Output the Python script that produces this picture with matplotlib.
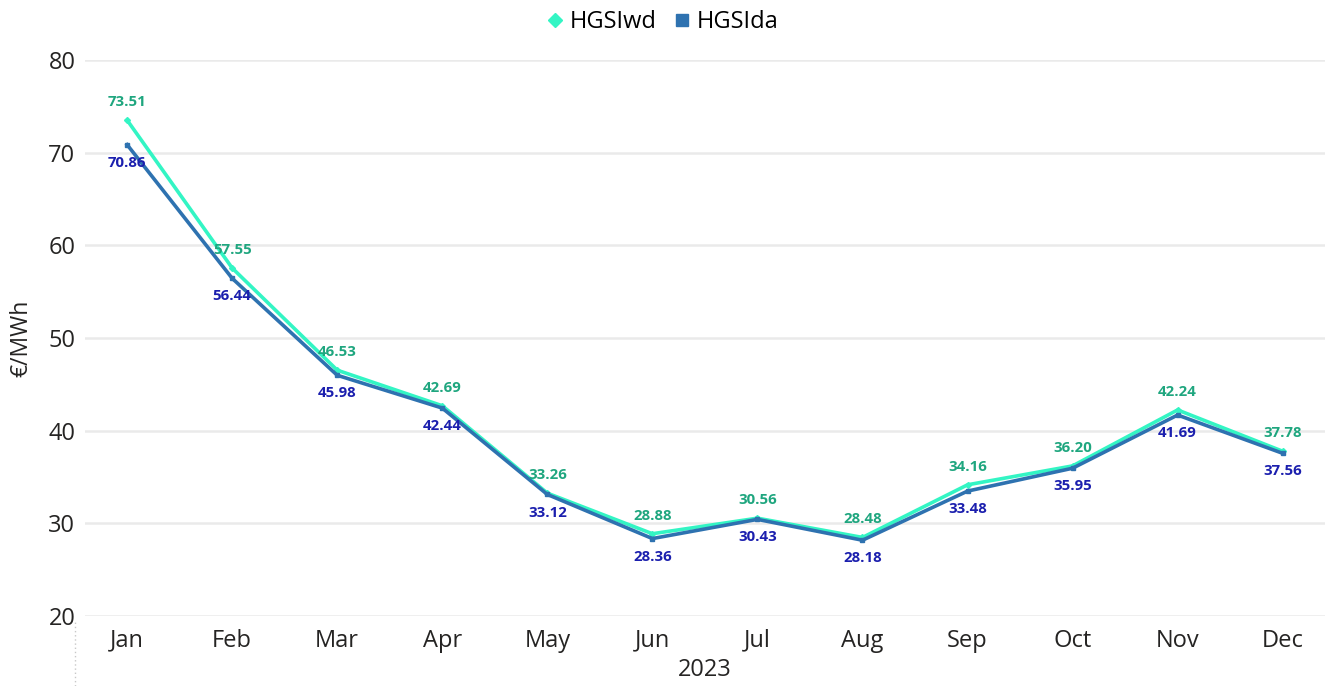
import matplotlib
matplotlib.use("Agg")
import matplotlib.pyplot as plt
from matplotlib.lines import Line2D

months = ["Jan", "Feb", "Mar", "Apr", "May", "Jun", "Jul", "Aug", "Sep", "Oct", "Nov", "Dec"]
hgsi_wd = [73.51, 57.55, 46.53, 42.69, 33.26, 28.88, 30.56, 28.48, 34.16, 36.20, 42.24, 37.78]
hgsi_da = [70.86, 56.44, 45.98, 42.44, 33.12, 28.36, 30.43, 28.18, 33.48, 35.95, 41.69, 37.56]

wd_line = "#33F5C4"
wd_text = "#1FA67F"
da_line = "#2E72B0"
da_text = "#1B1FAE"

plt.rcParams["font.family"] = ["Open Sans", "DejaVu Sans"]

fig = plt.figure(figsize=(13.3, 6.86), dpi=100)
ax = fig.add_axes([0.064, 0.102, 0.932, 0.8105])

x = list(range(len(months)))
ax.plot(x, hgsi_wd, color=wd_line, lw=2.6, marker="D", ms=3, zorder=3)
ax.plot(x, hgsi_da, color=da_line, lw=2.6, marker="s", ms=3, zorder=4)

for i in x:
    ax.annotate(f"{hgsi_wd[i]:.2f}", (i, hgsi_wd[i]), xytext=(0, 13), textcoords="offset points",
                ha="center", va="center", fontsize=10.8, fontweight="bold", color=wd_text, zorder=5)
    ax.annotate(f"{hgsi_da[i]:.2f}", (i, hgsi_da[i]), xytext=(0, -13), textcoords="offset points",
                ha="center", va="center", fontsize=10.8, fontweight="bold", color=da_text, zorder=5)

ax.set_xlim(-0.4, 11.4)
ax.set_ylim(20, 80)
ax.set_yticks([20, 30, 40, 50, 60, 70, 80])
ax.set_xticks(x)
ax.set_xticklabels(months)
ax.tick_params(axis="both", length=0, colors="#252423")
ax.tick_params(axis="x", pad=9, labelsize=17)
ax.tick_params(axis="y", pad=7, labelsize=17)

ax.grid(axis="y", color="#EAEAEA", lw=1.8)
ax.set_axisbelow(True)
for s in ax.spines.values():
    s.set_visible(False)

ax.set_ylabel("€/MWh", fontsize=16.5, color="#252423", labelpad=11)
ax.set_xlabel("2023", fontsize=17, color="#252423", labelpad=4)

# small dotted marker under the y axis
fig.add_artist(Line2D([0.0565, 0.0565], [0.0, 0.095], transform=fig.transFigure,
                      color="#C8C8C8", lw=1, ls=(0, (1, 2))))

handles = [
    Line2D([], [], color=wd_line, marker="D", ls="", ms=7),
    Line2D([], [], color=da_line, marker="s", ls="", ms=8),
]
fig.legend(handles, ["HGSIwd", "HGSIda"], loc="center", bbox_to_anchor=(0.497, 0.968), ncol=2,
           frameon=False, fontsize=17, handletextpad=0.1, columnspacing=0.6, handlelength=1)

fig.savefig("out.png", dpi=100)
